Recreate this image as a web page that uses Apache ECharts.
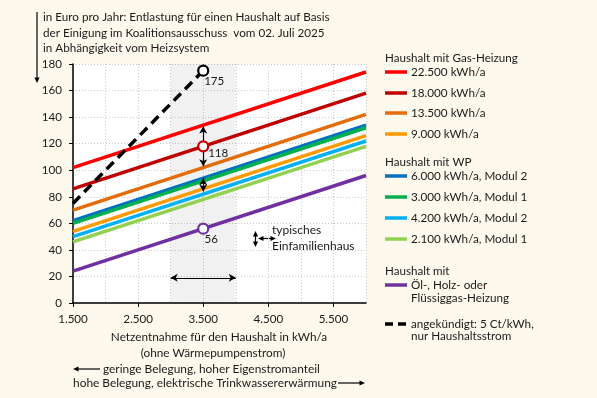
<!DOCTYPE html>
<html><head><meta charset="utf-8">
<script src="https://cdn.jsdelivr.net/npm/echarts@6/dist/echarts.min.js"></script>
<style>html,body{margin:0;padding:0;background:#fdf9ec;}#c{width:597px;height:398px;}</style>
</head><body><div id="c"></div>
<script>
// ---- data ----
var xRange = [1500, 6000];
var gas22500 = [102, 174];
var gas18000 = [86, 158];
var gas13500 = [70, 142];
var gas9000  = [54, 126];
var wp6000m2 = [62, 134];
var wp3000m1 = [60, 132];
var wp4200m2 = [50, 122];
var wp2100m1 = [46, 118];
var oilWood  = [24, 96];
var announcedX = [1500, 3500];
var announcedY = [75, 175];
var highlightX = 3500;
var highlightY = [175, 118, 56];
var bandX = [3000, 4000];

var names = ['22.500 kWh/a','18.000 kWh/a','13.500 kWh/a','9.000 kWh/a',
  '6.000 kWh/a, Modul 2','3.000 kWh/a, Modul 1','4.200 kWh/a, Modul 2','2.100 kWh/a, Modul 1',
  'Öl-, Holz- oder Flüssiggas-Heizung'];
var colors = ['#ff0000','#c00000','#e46c0a','#ff9900','#0070c0','#00b050','#00b0f0','#92d050','#7030a0'];
var vals = [gas22500,gas18000,gas13500,gas9000,wp6000m2,wp3000m1,wp4200m2,wp2100m1,oilWood];

var FONT = 'Lato';
var TXT = '#1a1a1a';

// font size fitting (match reference text widths)
var mctx = document.createElement('canvas').getContext('2d');
function fitGroup(list){ // list of [text, targetWidth]
  var sum=0;
  list.forEach(function(p){ mctx.font='20px '+FONT; var w=mctx.measureText(p[0]).width; sum += 20*p[1]/w; });
  return Math.round(sum/list.length*10)/10;
}
var title1='in Euro pro Jahr: Entlastung für einen Haushalt auf Basis';
var title2='der Einigung im Koalitionsausschuss  vom 02. Juli 2025';
var title3='in Abhängigkeit vom Heizsystem';
var FS_TITLE = fitGroup([[title1,289],[title2,279],[title3,166]]);
var FS_HEAD = fitGroup([['Haushalt mit Gas-Heizung',133],['Haushalt mit WP',86],['Haushalt mit',65]]);
var FS_ITEM = fitGroup([['22.500 kWh/a',74],['6.000 kWh/a, Modul 2',116],['Öl-, Holz- oder',75],['Flüssiggas-Heizung',97],['angekündigt: 5 Ct/kWh,',123],['nur Haushaltsstrom',102]]);
var FS_XT = fitGroup([['Netzentnahme für den Haushalt in kWh/a',216],['(ohne Wärmepumpenstrom)',146]]);
var FS_BOT = fitGroup([['geringe Belegung, hoher Eigenstromanteil',218],['hohe Belegung, elektrische Trinkwassererwärmung',263]]);
var FS_NUM = fitGroup([['2.500',30],['180',20]]);
var FS_NOTE = fitGroup([['typisches',51],['Einfamilienhaus',80]]);

function pairs(xs, ys){ return xs.map(function(x,i){return [x, ys[i]];}); }
function fmt(v){ var s=String(v); return s.length>3 ? s.slice(0,s.length-3)+'.'+s.slice(-3) : s; }

var series = [];
series.push({
  type:'line', data:[], silent:true,
  markArea:{silent:true, itemStyle:{color:'rgba(0,0,0,0.055)'}, data:[[{xAxis:bandX[0], yAxis:0},{xAxis:bandX[1], yAxis:180}]]},
  markLine:{silent:true, symbol:['arrow','arrow'], symbolSize:[6,7], label:{show:false},
    lineStyle:{color:'#000', width:1.2, type:'solid'},
    data:[
      [{coord:[3500,133]},{coord:[3500,103]}],
      [{coord:[3500,94]},{coord:[3500,84]}],
      [{coord:[3000,19]},{coord:[4000,19]}]
    ]}
});
vals.forEach(function(v,i){
  series.push({type:'line', name:names[i], data:pairs(xRange, v), symbol:'none',
    lineStyle:{color:colors[i], width:3.5}, itemStyle:{color:colors[i]}, z:3});
});
series.push({type:'line', name:'angekündigt', data:pairs(announcedX, announcedY), symbol:'none',
  lineStyle:{color:'#000', width:3.5, type:[10,6]}, z:4});
var markerColors = ['#000000','#c00000','#7030a0'];
var labelOffsets = [[11,11],[15,7],[8,11]];
series.push({type:'scatter', z:6, symbol:'circle', symbolSize:10,
  data: highlightY.map(function(y,i){ return {value:[highlightX,y],
    itemStyle:{color:'#ffffff', opacity:1, borderColor:markerColors[i], borderWidth:2.2},
    label:{show:true, formatter:String(y), position:'inside', offset:labelOffsets[i], color:TXT, fontSize:FS_NUM, fontFamily:FONT}}; })
});

var g = [];
function txt(x,y,s,fs,align){ g.push({type:'text', x:x, y:y, z:10, style:{text:s, fill:TXT, font:fs+'px '+FONT, align:align||'left', verticalAlign:'middle'}}); }
function seg(x1,y,x2,c,dash){ g.push({type:'line', shape:{x1:x1,y1:y,x2:x2,y2:y}, style:{stroke:c, lineWidth:3.5, lineDash:dash||null}}); }
function arrowHead(x,y,dir){
  var p; var s=2.6, l=5.5;
  if(dir==='r') p=[[x,y],[x-l,y-s],[x-l,y+s]];
  if(dir==='l') p=[[x,y],[x+l,y-s],[x+l,y+s]];
  if(dir==='d') p=[[x,y],[x-s,y-l],[x+s,y-l]];
  if(dir==='u') p=[[x,y],[x-s,y+l],[x+s,y+l]];
  g.push({type:'polygon', shape:{points:p}, style:{fill:'#000'}});
}
function thin(x1,y1,x2,y2){ g.push({type:'line', shape:{x1:x1,y1:y1,x2:x2,y2:y2}, style:{stroke:'#000', lineWidth:1.2}}); }

var lx=385, tx=411;
txt(lx,58,'Haushalt mit Gas-Heizung',FS_HEAD);
var ys1=[72,93,113,134];
for(var i=0;i<4;i++){ seg(lx,ys1[i],407,colors[i]); txt(tx,ys1[i],names[i],FS_ITEM); }
txt(lx,162,'Haushalt mit WP',FS_HEAD);
var ys2=[176,197,218,239];
for(var j=0;j<4;j++){ seg(lx,ys2[j],407,colors[4+j]); txt(tx,ys2[j],names[4+j],FS_ITEM); }
txt(lx,271,'Haushalt mit',FS_HEAD);
seg(lx,285,407,colors[8]); txt(tx,285,'Öl-, Holz- oder',FS_ITEM); txt(tx,298,'Flüssiggas-Heizung',FS_ITEM);
seg(lx,324,407,'#000',[8,5]); txt(tx,324,'angekündigt: 5 Ct/kWh,',FS_ITEM); txt(tx,336,'nur Haushaltsstrom',FS_ITEM);

txt(43,17,title1,FS_TITLE);
txt(43,33,title2,FS_TITLE);
txt(43,48,title3,FS_TITLE);
thin(37,12,37,78); arrowHead(37,83,'d');

thin(255.5,235,255.5,243); arrowHead(255.5,231,'u'); arrowHead(255.5,247,'d');
thin(262,238.5,272,238.5); arrowHead(258,238.5,'l'); arrowHead(276,238.5,'r');
txt(272,230,'typisches',FS_NOTE);
txt(272,246,'Einfamilienhaus',FS_NOTE);

txt(219,337,'Netzentnahme für den Haushalt in kWh/a',FS_XT,'center');
txt(213,353,'(ohne Wärmepumpenstrom)',FS_XT,'center');
thin(78,369,100,369); arrowHead(73,369,'l');
txt(103,369,'geringe Belegung, hoher Eigenstromanteil',FS_BOT);
txt(73,383,'hohe Belegung, elektrische Trinkwassererwärmung',FS_BOT);
thin(338,383,360,383); arrowHead(365,383,'r');

var chart = echarts.init(document.getElementById('c'), null, {renderer:'canvas'});
chart.setOption({
  animation:false,
  backgroundColor:'#fdf9ec',
  grid:{left:73, right:231, top:64, bottom:95, show:true, backgroundColor:'#ffffff', borderWidth:0},
  xAxis:{type:'value', min:xRange[0], max:xRange[1], interval:1000,
    axisLine:{show:true, onZero:false, lineStyle:{color:'#000', width:1.5}},
    axisTick:{show:true, length:4, lineStyle:{color:'#000'}},
    axisLabel:{formatter:fmt, color:TXT, fontSize:FS_NUM, fontFamily:FONT, margin:10, showMaxLabel:false},
    splitLine:{show:true, lineStyle:{color:'#c8c8c8', type:[1,2], width:1}},
    minorTick:{show:false, splitNumber:2},
    minorSplitLine:{show:true, lineStyle:{color:'#c8c8c8', type:[1,2], width:1}}
  },
  yAxis:{type:'value', min:0, max:180, interval:20,
    axisLine:{show:true, lineStyle:{color:'#000', width:1.5}},
    axisTick:{show:true, length:4, lineStyle:{color:'#000'}},
    axisLabel:{color:TXT, fontSize:FS_NUM, fontFamily:FONT, margin:11},
    splitLine:{show:true, lineStyle:{color:'#c8c8c8', type:[1,2], width:1}}
  },
  series:series,
  graphic:g
});
</script></body></html>
